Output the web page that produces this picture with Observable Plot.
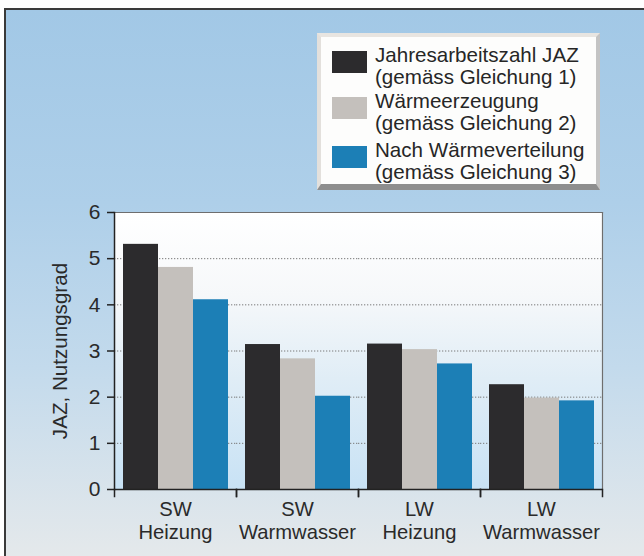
<!DOCTYPE html>
<html>
<head>
<meta charset="utf-8">
<script src="https://cdn.jsdelivr.net/npm/d3@7"></script>
<script src="https://cdn.jsdelivr.net/npm/@observablehq/plot@0.6"></script>
<style>
  html, body { margin: 0; padding: 0; background: #ffffff; }
  #wrap { position: relative; width: 644px; height: 556px; overflow: hidden;
          font-family: "Liberation Sans", Arial, sans-serif; color: #2a2a2a; }
  #bg { position: absolute; left: 4px; top: 8px; right: -4px; bottom: -4px;
        border-left: 2px solid #3a3a3a; border-top: 2px solid #3a3a3a;
        background: linear-gradient(to bottom, #a2c8e6 0%, #aecfe9 35%, #c3daec 65%, #e5e9eb 100%); }
  #chart { position: absolute; left: 0; top: 0; }
  #legendBox { position: absolute; left: 317px; top: 33px; width: 283px; height: 157px; box-sizing: border-box;
               background: #fdfdfc; border-top: 4px solid #e8e5e1; border-left: 4px solid #e3e0dc;
               border-right: 4px solid #c4c4c4; border-bottom: 6px solid #8e8e8e; }
  .sw { position: absolute; left: 332px; width: 35px; height: 21.5px; }
  .lt { position: absolute; left: 375px; font-size: 20.6px; line-height: 21.6px; white-space: pre; color: #262626; }
</style>
</head>
<body>
<div id="wrap">
  <div id="bg"></div>
  <div id="chart"></div>
  <div id="legendBox"></div>
</div>
<script>
// ---- data ----
const categories = ["SW\nHeizung", "SW\nWarmwasser", "LW\nHeizung", "LW\nWarmwasser"];
const seriesKeys = ["JAZ", "Wärmeerzeugung", "Nach Wärmeverteilung"];
const legendLine1 = ["Jahresarbeitszahl JAZ", "Wärmeerzeugung", "Nach Wärmeverteilung"];
const legendLine2 = ["(gemäss Gleichung 1)", "(gemäss Gleichung 2)", "(gemäss Gleichung 3)"];
const jazValues = [5.31, 3.14, 3.15, 2.27];
const erzeugungValues = [4.81, 2.83, 3.03, 1.98];
const verteilungValues = [4.11, 2.02, 2.72, 1.92];
const seriesColors = ["#2c2b2d", "#c4c0bc", "#1c7fb6"];
const yTicks = [0, 1, 2, 3, 4, 5, 6];
const yLabel = "JAZ, Nutzungsgrad";

const seriesValues = [jazValues, erzeugungValues, verteilungValues];
const table = [];
categories.forEach((cat, i) => {
  seriesKeys.forEach((s, j) => table.push({cat, series: s, value: seriesValues[j][i]}));
});

const ink = "#222222";
const chart = Plot.plot({
  width: 644,
  height: 556,
  marginLeft: 112,
  marginRight: 41,
  marginTop: 212,
  marginBottom: 67,
  style: {background: "transparent", fontFamily: "Liberation Sans, Arial, sans-serif", fontSize: "20px", color: "#2a2a2a", overflow: "visible"},
  fx: {domain: categories, padding: 0, label: null},
  x: {domain: seriesKeys, paddingInner: 0, paddingOuter: 0.22, axis: null},
  y: {domain: [0, 6], axis: null},
  color: {domain: seriesKeys, range: seriesColors},
  marks: [
    Plot.frame({fill: "url(#plotGrad)", stroke: null, insetLeft: -0.6, insetRight: -0.6}),
    Plot.gridY(yTicks.slice(1, -1), {stroke: "#7a7a7a", strokeOpacity: 1, strokeDasharray: "1.3,1.7", strokeWidth: 1}),
    Plot.barY(table, {fx: "cat", x: "series", y: "value", fill: "series"}),
    Plot.frame({anchor: "top", stroke: "#6e6e6e", strokeWidth: 1.2}),
    Plot.frame({anchor: "right", facetAnchor: "right", stroke: "#6e6e6e", strokeWidth: 1.2}),
    Plot.frame({anchor: "left", facetAnchor: "left", stroke: ink, strokeWidth: 1.5}),
    Plot.ruleY([0], {stroke: ink, strokeWidth: 1.5}),
    Plot.frame({anchor: "left", insetTop: 277, insetBottom: -7, stroke: ink, strokeWidth: 1.5}),
    Plot.frame({anchor: "right", insetTop: 277, insetBottom: -7, stroke: ink, strokeWidth: 1.5}),
    Plot.axisY({ticks: yTicks, tickSize: 7, tickPadding: 7, tickFormat: d => d, label: null, fontSize: 21, stroke: ink, strokeWidth: 1.5}),
    Plot.axisFx({anchor: "bottom", tickSize: 0, tickPadding: 10, label: null, fontSize: 20.2, lineHeight: 1.13}),
    Plot.text([yLabel], {text: d => d, frameAnchor: "left", facetAnchor: "left", textAnchor: "middle", rotate: -90, dx: -54, fontSize: 20.6})
  ]
});

d3.select(chart).insert("defs", ":first-child").html(
  '<linearGradient id="plotGrad" x1="0" y1="0" x2="0" y2="1">' +
  '<stop offset="0" stop-color="#ffffff"/>' +
  '<stop offset="0.3" stop-color="#f6f8fa"/>' +
  '<stop offset="0.6" stop-color="#e0edf6"/>' +
  '<stop offset="1" stop-color="#c8e2f5"/>' +
  '</linearGradient>'
);
document.getElementById("chart").appendChild(chart);

// ---- legend (HTML overlay) ----
const wrap = document.getElementById("wrap");
const itemTops = [44, 90, 139];
seriesKeys.forEach((s, j) => {
  const sw = document.createElement("div");
  sw.className = "sw";
  sw.style.top = (itemTops[j] + 7) + "px";
  sw.style.background = seriesColors[j];
  wrap.appendChild(sw);
  const t = document.createElement("div");
  t.className = "lt";
  t.style.top = itemTops[j] + "px";
  t.textContent = legendLine1[j] + "\n" + legendLine2[j];
  wrap.appendChild(t);
});
</script>
</body>
</html>
